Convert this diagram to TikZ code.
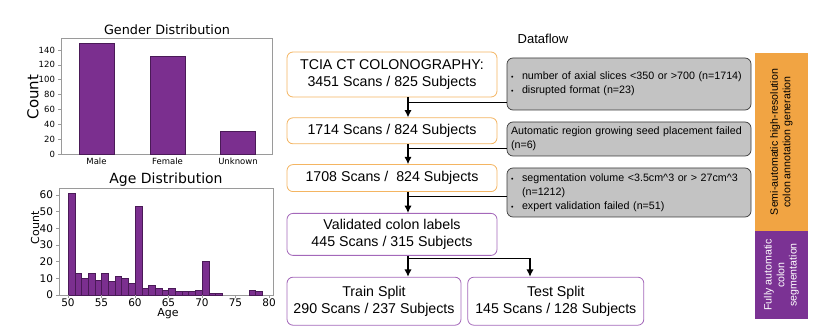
\documentclass[tikz,border=0pt]{standalone}
\usepackage{fontspec}
\setmainfont{Liberation Sans}
\newfontfamily\plotfont{DejaVu Sans}
\usepackage{xcolor}
\usepackage{tikz}
\usetikzlibrary{arrows.meta,positioning,calc}
\definecolor{OBar}{HTML}{7B2F8F}
\definecolor{OBarEdge}{HTML}{4A1A57}
\definecolor{OFrame}{HTML}{9A9A9A}
\definecolor{OOrangeLine}{HTML}{F4B562}
\definecolor{OPurpleLine}{HTML}{A468BA}
\definecolor{OGrayFill}{HTML}{C3C3C3}
\definecolor{OGrayLine}{HTML}{3A3A3A}
\definecolor{OSideOrange}{HTML}{F1A443}
\definecolor{OSidePurple}{HTML}{7B3294}
\newcommand{\blt}{\makebox[11pt][l]{\scriptsize\textbullet}}

\begin{document}
\begin{tikzpicture}[x=1pt,y=-1pt,
  node distance=20pt,
  fb/.style={draw=OOrangeLine,line width=0.8pt,rounded corners=6pt,fill=white,
    minimum width=210pt,align=center,font=\fontsize{14.2}{17}\selectfont},
  vb/.style={fb,draw=OPurpleLine},
  gb/.style={draw=OGrayLine,line width=0.7pt,fill=OGrayFill,rounded corners=6pt,
    text width=236pt,inner xsep=4pt,align=left,font=\fontsize{10.7}{14}\selectfont},
  side/.style={rotate=90,minimum height=53pt,align=center,inner sep=0pt,
    font=\fontsize{10.6}{12.5}\selectfont},
  a/.style={-{Latex[length=2.6mm,width=2.6mm]},line width=1.3pt,color=black},
  l/.style={line width=0.6pt,color=black},
  bar/.style={fill=OBar,draw=OBarEdge,line width=0.4pt},
  frame/.style={draw=OFrame,line width=0.6pt},
  tk/.style={font=\plotfont\fontsize{8.5}{9}\selectfont},
  tkb/.style={font=\plotfont\fontsize{10.5}{11}\selectfont},
  alab/.style={font=\plotfont\fontsize{11}{12}\selectfont}
]
  \useasboundingbox (0,0) rectangle (822,331);

  % gender chart
  \node[font=\plotfont\fontsize{12.8}{14}\selectfont] (gtitle) at (167,30) {Gender Distribution};
  \draw[frame] (61,38) rectangle (272,154);
  \foreach \v/\xc/\lab in {149/96.5/Male,132/167.5/Female,31/238/Unknown}{
    \draw[bar] (\xc-17.5,154) rectangle (\xc+17.5,154-\v*0.743);
    \node[tk] at (\xc,161.5) {\lab};
  }
  \foreach \v in {0,20,...,140}{
    \draw[frame] (61,154-\v*0.743) -- ++(-3,0);
    \node[tk,anchor=east] at (58.5,154-\v*0.743) {\v};
  }
  \node[font=\plotfont\fontsize{15}{16}\selectfont,rotate=90] (gcount) at (33,97) {Count};

  % age chart
  \node[font=\plotfont\fontsize{14}{15}\selectfont] (atitle) at (166,180) {Age Distribution};
  \draw[frame] (59,188) rectangle (273,295);
  \foreach \v [count=\i from 0] in {61,13,10,13,9,13,8,11,10,7,53,4,6,4,3,4,2,2,2,3,20,1,1,0,0,0,0,3,2}{
    \ifnum\v>0
      \draw[bar] (68+\i*6.7,295) rectangle (74.7+\i*6.7,295-\v*1.667);
    \fi
  }
  \foreach \t in {50,55,...,80}{
    \draw[frame] (68+\t*6.7-335,295) -- ++(0,3);
    \node[tkb,anchor=base,inner sep=0pt] at (68+\t*6.7-335,306) {\t};
  }
  \foreach \v in {0,10,...,60}{
    \draw[frame] (59,295-\v*1.667) -- ++(-3,0);
    \node[tkb,anchor=east] at (56.5,295-\v*1.667) {\v};
  }
  \node[alab,rotate=90] (acount) at (35,228) {Count};
  \node[alab,anchor=base,inner sep=0pt] (aage) at (168,316) {Age};

  % dataflow
  \node[font=\fontsize{13}{15}\selectfont] (dtitle) at (543,39) {Dataflow};
  \node[fb,minimum height=45pt] (tcia) at (392,74.5) {TCIA CT COLONOGRAPHY:\\
    3451 Scans / 825 Subjects};
  \node[fb,minimum height=26pt,below=of tcia] (s1714) {1714 Scans / 824 Subjects};
  \node[fb,minimum height=27pt,below=of s1714] (s1708) {1708 Scans /\ \ 824 Subjects};
  \node[vb,minimum height=42pt,below=21pt of s1708] (valid) {Validated colon labels\\
    445 Scans / 315 Subjects};
  \node[vb,minimum width=174pt,minimum height=48pt,
    below right=21pt and 0pt of valid.south west] (train) {Train Split\\
    290 Scans / 237 Subjects};
  \node[vb,minimum width=176pt,minimum height=48pt,right=6pt of train] (test) {Test Split\\
    145 Scans / 128 Subjects};

  \node[gb,minimum height=52pt] (g1) at (629,84) {\blt number of axial slices <350 or >700 (n=1714)\\
    \blt disrupted format (n=23)};
  \node[gb,minimum height=34pt] (g2) at (629,139) {Automatic region growing seed placement failed\\
    (n=6)};
  \node[gb,minimum height=49pt] (g3) at (629,192.5) {\blt segmentation volume <3.5cm\textasciicircum3 or > 27cm\textasciicircum3\\
    \hspace*{11pt}(n=1212)\\
    \blt expert validation failed (n=51)};

  \node[side,fill=OSideOrange,minimum width=178pt] (semi) at (781.5,142)
    {Semi-automatic high-resolution\\colon annotation generation};
  \node[side,fill=OSidePurple,text=white,minimum width=88pt] (fully) at (781.5,275)
    {Fully automatic\\colon\\segmentation};

  \coordinate (spine) at (408,0);
  \coordinate (tx) at (530,0);
  \coordinate (j1) at ($(tcia.south -| spine)+(0,4.5)$);
  \coordinate (j2) at ($(s1714.south -| spine)+(0,4.5)$);
  \coordinate (j3) at ($(s1708.south -| spine)+(0,4.5)$);
  \coordinate (j4) at ($(valid.south -| spine)+(0,3)$);
  \draw[l] (g1.west |- j1) -- (j1);
  \draw[l] (g2.west |- j2) -- (j2);
  \draw[l] (g3.west |- j3) -- (j3);
  \draw[a] (tcia.south -| spine) -- (s1714.north -| spine);
  \draw[a] (s1714.south -| spine) -- (s1708.north -| spine);
  \draw[a] (s1708.south -| spine) -- (valid.north -| spine);
  \draw[a] (valid.south -| spine) -- (train.north -| spine);
  \draw[a] (j4) -| (test.north -| tx);
\end{tikzpicture}
\end{document}
